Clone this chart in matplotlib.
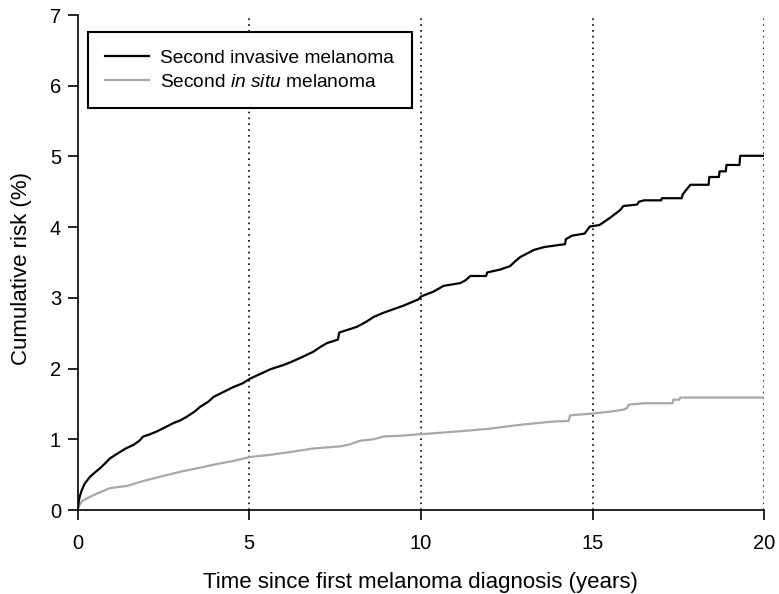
import matplotlib
matplotlib.use("Agg")
import matplotlib.pyplot as plt

plt.rcParams['font.family'] = ['Liberation Sans', 'DejaVu Sans']
plt.rcParams['mathtext.fontset'] = 'custom'
plt.rcParams['mathtext.it'] = 'Liberation Sans:italic'
plt.rcParams['mathtext.rm'] = 'Liberation Sans'

# Second invasive melanoma (cumulative risk %)
inv_years = [0, 0.03, 0.06, 0.12, 0.2, 0.36, 0.5, 0.65, 0.8, 0.94, 1.1, 1.23, 1.4, 1.62, 1.8, 1.91,
             2.1, 2.30, 2.55, 2.79, 3.0, 3.18, 3.4, 3.57, 3.8, 3.96, 4.25, 4.54, 4.8, 5.03,
             5.3, 5.61, 5.99, 6.2, 6.48, 6.87, 7.05, 7.26, 7.58, 7.62, 8.13, 8.4, 8.62, 8.91,
             9.2, 9.49, 9.93, 10.0, 10.37, 10.66, 11.15, 11.3, 11.44, 11.9, 11.93, 12.3, 12.6,
             12.75, 12.9, 13.3, 13.6, 14.2, 14.22, 14.4, 14.77, 14.92, 15.2, 15.5, 15.8, 15.9,
             16.3, 16.35, 16.5, 17.0, 17.02, 17.6, 17.62, 17.75, 17.85, 18.38, 18.4, 18.68, 18.7,
             18.88, 18.9, 19.28, 19.3, 20.0]
inv_risk = [0, 0.12, 0.19, 0.28, 0.37, 0.47, 0.53, 0.59, 0.66, 0.73, 0.78, 0.82, 0.87, 0.92, 0.98, 1.04,
            1.07, 1.11, 1.17, 1.23, 1.27, 1.32, 1.39, 1.46, 1.53, 1.60, 1.67, 1.74, 1.79, 1.86,
            1.92, 1.99, 2.05, 2.09, 2.15, 2.24, 2.30, 2.36, 2.41, 2.51, 2.59, 2.66, 2.73, 2.79,
            2.84, 2.89, 2.98, 3.02, 3.09, 3.17, 3.21, 3.25, 3.31, 3.31, 3.36, 3.40, 3.45,
            3.52, 3.58, 3.68, 3.72, 3.76, 3.83, 3.88, 3.91, 4.01, 4.03, 4.13, 4.24, 4.30,
            4.32, 4.36, 4.38, 4.38, 4.41, 4.41, 4.46, 4.54, 4.60, 4.60, 4.71, 4.71, 4.79,
            4.79, 4.88, 4.88, 5.01, 5.01]

# Second in situ melanoma
ins_years = [0, 0.03, 0.12, 0.25, 0.46, 0.7, 0.94, 1.43, 1.91, 2.4, 2.98, 3.57, 4.05, 4.5, 5.03,
             5.6, 6.19, 6.87, 7.65, 7.94, 8.23, 8.62, 8.91, 9.4, 9.93, 10.5, 11.3, 12.0, 12.8,
             13.8, 14.3, 14.35, 14.9, 15.5, 15.9, 16.0, 16.05, 16.5, 17.33, 17.35, 17.53, 17.55, 20.0]
ins_risk = [0, 0.05, 0.12, 0.16, 0.21, 0.26, 0.31, 0.34, 0.41, 0.47, 0.54, 0.60, 0.65, 0.69, 0.75,
            0.78, 0.82, 0.87, 0.90, 0.93, 0.98, 1.00, 1.04, 1.05, 1.07, 1.09, 1.12, 1.15, 1.20,
            1.25, 1.26, 1.34, 1.36, 1.39, 1.42, 1.44, 1.49, 1.51, 1.51, 1.56, 1.56, 1.59, 1.59]

x_ticks = [0, 5, 10, 15, 20]
y_ticks = [0, 1, 2, 3, 4, 5, 6, 7]
ref_years = [5, 10, 15, 20]

fig = plt.figure(figsize=(7.79, 5.94), dpi=100)
ax = fig.add_axes([0.0997, 0.1414, 0.8813, 0.8332])

for xv in ref_years:
    ax.axvline(xv, color='black', linestyle=(0, (1, 2.5)), linewidth=1.2, zorder=1)

ax.plot(inv_years, inv_risk, color='black', linewidth=1.6,
        label='Second invasive melanoma', zorder=3)
ax.plot(ins_years, ins_risk, color='#a8a8a8', linewidth=1.6,
        label='Second $\\it{in\\ situ}$ melanoma', zorder=2)

ax.set_xlim(0, 20)
ax.set_ylim(0, 7)
ax.set_xticks(x_ticks)
ax.set_yticks(y_ticks)
ax.spines['top'].set_visible(False)
ax.spines['right'].set_visible(False)
ax.spines['left'].set_linewidth(1.2)
ax.spines['bottom'].set_linewidth(1.2)
ax.tick_params(direction='out', length=7, width=1.2, labelsize=14.5)
ax.tick_params(axis='x', pad=10)
ax.tick_params(axis='y', pad=5)

ax.set_xlabel('Time since first melanoma diagnosis (years)', fontsize=16)
ax.xaxis.set_label_coords(0.5, -0.125)
ax.set_ylabel('Cumulative risk (%)', fontsize=16)
ax.yaxis.set_label_coords(-0.066, 0.487)

leg = ax.legend(loc='upper left', bbox_to_anchor=(0.0145, 0.966), fontsize=13.8,
                frameon=True, fancybox=False, edgecolor='black', framealpha=1,
                handlelength=2.3, handletextpad=0.6, borderpad=0.9, labelspacing=0.35,
                borderaxespad=0)
leg.get_frame().set_linewidth(1.5)

fig.savefig('out.png', dpi=100)
